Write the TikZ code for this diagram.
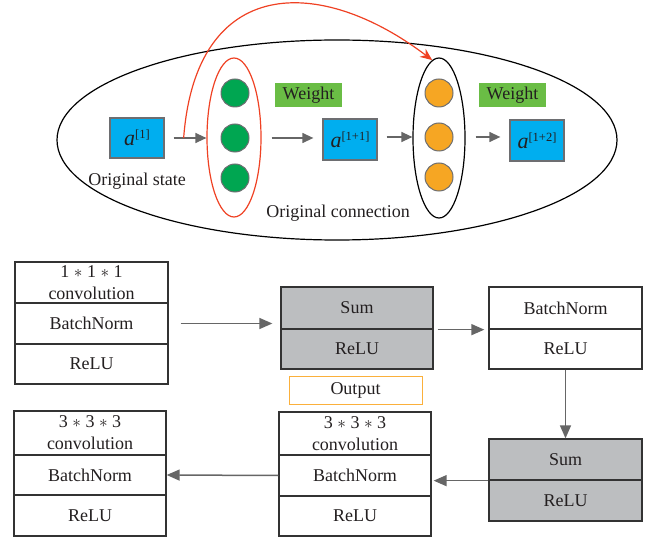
\documentclass[tikz,border=0pt]{standalone}
\usepackage{fontspec}
\setmainfont{Liberation Serif}
\usetikzlibrary{shapes.geometric,arrows.meta,calc}
\definecolor{txt}{HTML}{231F20}
\definecolor{bluef}{HTML}{00AEEF}
\definecolor{bord}{HTML}{6D6E71}
\definecolor{greenc}{HTML}{00A651}
\definecolor{orangec}{HTML}{F6A623}
\definecolor{wgreen}{HTML}{6ABD45}
\definecolor{grayf}{HTML}{BCBEC0}
\definecolor{arr}{HTML}{666666}
\definecolor{redc}{HTML}{EF4123}
\definecolor{outc}{HTML}{FBB03B}
\newcommand\asup[1]{{\fontsize{22}{22}\selectfont\itshape a}\raisebox{7pt}{\fontsize{12.5}{13}\selectfont[#1]}}
\begin{document}
\begin{tikzpicture}[x=1pt,y=-1pt, font=\fontsize{18}{22}\selectfont, text=txt,
 part/.style={draw=black!80, line width=1.3pt, minimum width=153, inner sep=0, align=center, fill=white},
 spart/.style={part, fill=grayf},
 arw/.style={draw=arr, line width=1.5pt, -{Triangle[length=13pt,width=11pt]}},
 tarw/.style={draw=arr, line width=1.3pt, -{Triangle[length=11pt,width=10pt]}},
 abox/.style={draw=bord, fill=bluef, line width=1.3pt, minimum width=54, minimum height=40, inner sep=0},
 wbox/.style={fill=wgreen, minimum width=67, minimum height=24, inner sep=0},
 dot/.style={circle, draw=bord, line width=1pt, minimum size=28, inner sep=0},
 oval/.style={ellipse, line width=1.2pt, inner sep=0},
 ]
\useasboundingbox (0,0) rectangle (645,537);
% top part
\node[oval, draw=black, minimum width=560, minimum height=200] (big) at (337,140) {};
\node[oval, draw=redc, minimum width=54, minimum height=159] (re) at (234,137.5) {};
\node[oval, draw=black, minimum width=52, minimum height=160] (oe) at (439,138) {};
\node[dot, fill=greenc] (g1) at (235,93) {};
\node[dot, fill=greenc] (g2) at (235,138) {};
\node[dot, fill=greenc] (g3) at (235,178) {};
\node[dot, fill=orangec] (o1) at (439,93) {};
\node[dot, fill=orangec] (o2) at (439,137) {};
\node[dot, fill=orangec] (o3) at (439,177) {};
\node[abox] (a1) at (137,138) {\asup{1}};
\node[abox, minimum height=41] (a11) at (350,139.5) {\asup{1+1}};
\node[abox, minimum height=41] (a12) at (537,140.5) {\asup{1+2}};
\node[wbox] (w1) at (308.5,95) {Weight};
\node[wbox] (w2) at (512.5,95) {Weight};
\node (ls) at (137,181) {Original state};
\node (lc) at (338,213) {Original connection};
\draw[tarw, shorten <=9pt] (a1.east) -- (a1.east -| re.west);
\coordinate (rs) at ($(a1.east)+(19,0)$);
\draw[tarw, shorten <=10pt, shorten >=9pt] (re.east |- g2) -- (a11.west |- g2);
\draw[tarw, shorten <=9pt] (a11.east |- o2) -- (oe.west |- o2);
\draw[tarw, shorten <=10pt, shorten >=9pt] (oe.east |- o2) -- (a12.west |- o2);
\draw[redc, line width=1.2pt, -{Stealth[length=12pt,width=10pt]}] (rs) .. controls (196,-25) and (320,-25) .. (oe.95);
% bottom part
\node[part, minimum height=41] (b1a) at (91.5,282.5) {1 $\ast$ 1 $\ast$ 1\\convolution};
\node[part, minimum height=41] (b1b) at (91.5,323.5) {BatchNorm};
\node[part, minimum height=40] (b1c) at (91.5,364) {ReLU};
\node[spart, minimum width=152, minimum height=42] (s1a) at (357,308) {Sum};
\node[spart, minimum width=152, minimum height=40] (s1b) at (357,349) {ReLU};
\node[draw=outc, line width=1pt, minimum width=133, minimum height=28, inner sep=0] (out) at (355.5,390) {Output};
\node[part, minimum height=42] (n2a) at (565.5,308) {BatchNorm};
\node[part, minimum height=40] (n2b) at (565.5,349) {ReLU};
\node[spart, minimum height=41] (s2a) at (565.5,459.5) {Sum};
\node[spart, minimum height=41] (s2b) at (565.5,500.5) {ReLU};
\node[part, minimum width=152, minimum height=43] (b3a) at (355,433.5) {3 $\ast$ 3 $\ast$ 3\\convolution};
\node[part, minimum width=152, minimum height=41] (b3b) at (355,475.5) {BatchNorm};
\node[part, minimum width=152, minimum height=40] (b3c) at (355,516) {ReLU};
\node[part, minimum width=152, minimum height=44] (b4a) at (90,433) {3 $\ast$ 3 $\ast$ 3\\convolution};
\node[part, minimum width=152, minimum height=40] (b4b) at (90,475) {BatchNorm};
\node[part, minimum width=152, minimum height=41] (b4c) at (90,515.5) {ReLU};
\draw[arw, shorten <=12pt, shorten >=8pt] (b1b.east) -- (b1b.east -| s1a.west);
\draw[arw, shorten <=4pt, shorten >=4pt] (s1a.south east) -- (n2a.south west);
\draw[arw] (n2b.south) -- (s2a.north);
\draw[arw, shorten >=2pt] (s2a.south west) -- (s2a.south west -| b3b.east);
\draw[arw] (b3b.west) -- (b4b.east);
\end{tikzpicture}
\end{document}
